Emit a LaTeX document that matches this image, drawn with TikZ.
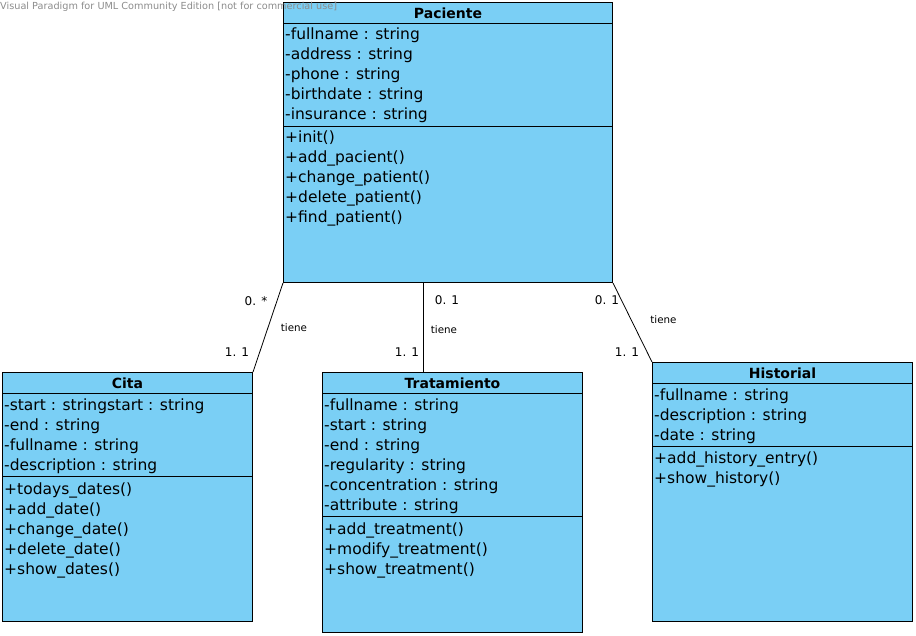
\documentclass[tikz,border=0pt]{standalone}
\usepackage{fontspec}
\setmainfont{DejaVu Sans}
\definecolor{classblue}{RGB}{122,207,245}
\tikzset{
  cls/.style={draw, fill=classblue, line width=1pt, anchor=north west, inner sep=0pt},
  clsname/.style={anchor=base, inner sep=0pt, font=\bfseries\fontsize{14}{16}\selectfont},
  member/.style={anchor=base west, inner sep=0pt, font=\fontsize{15.5}{20}\selectfont},
  mult/.style={inner sep=0pt, font=\fontsize{12}{14}\selectfont},
  role/.style={inner sep=0pt, font=\fontsize{10.3}{12}\selectfont},
  assoc/.style={line width=0.8pt},
}
\begin{document}
\begin{tikzpicture}[x=1pt,y=-1pt]
    \useasboundingbox (0,0) rectangle (916,636);
    % ------ Paciente -----------------
    \node [cls, minimum width=329pt, minimum height=280pt] (pac) at (283,2) {};
    \node [clsname] (pacN) at ([yshift=-16.3pt]pac.north) {Paciente};
    \draw (pac.north west) ++(0,21) -- ++(329,0);
    \draw (pac.north west) ++(0,124) -- ++(329,0);
    \foreach \t [count=\i] in {-fullname : string, -address : string,
        -phone : string, -birthdate : string, -insurance : string}
      \node [member] (pacA\i) at (285,20+20*\i) {\t};
    \foreach \t [count=\i] in {+init(), +add\_pacient(), +change\_patient(),
        +delete\_patient(), +find\_patient()}
      \node [member] (pacM\i) at (285,123+20*\i) {\t};
    % ------ Cita -----------------
    \node [cls, minimum width=250pt, minimum height=249pt] (cit) at (2,372) {};
    \node [clsname] (citN) at ([yshift=-16.3pt]cit.north) {Cita};
    \draw (cit.north west) ++(0,21) -- ++(250,0);
    \draw (cit.north west) ++(0,104.5) -- ++(250,0);
    \foreach \t [count=\i] in {-start : stringstart : string, -end : string,
        -fullname : string, -description : string}
      \node [member] (citA\i) at (4,390.5+20*\i) {\t};
    \foreach \t [count=\i] in {+todays\_dates(), +add\_date(), +change\_date(),
        +delete\_date(), +show\_dates()}
      \node [member] (citM\i) at (4,474+20*\i) {\t};
    % ------ Tratamiento -----------------
    \node [cls, minimum width=260pt, minimum height=260pt] (tra) at (322,372) {};
    \node [clsname] (traN) at ([yshift=-16.3pt]tra.north) {Tratamiento};
    \draw (tra.north west) ++(0,21) -- ++(260,0);
    \draw (tra.north west) ++(0,144) -- ++(260,0);
    \foreach \t [count=\i] in {-fullname : string, -start : string, -end : string,
        -regularity : string, -concentration : string, -attribute : string}
      \node [member] (traA\i) at (324,390.5+20*\i) {\t};
    \foreach \t [count=\i] in {+add\_treatment(), +modify\_treatment(),
        +show\_treatment()}
      \node [member] (traM\i) at (324,514+20*\i) {\t};
    % ------ Historial -----------------
    \node [cls, minimum width=260pt, minimum height=259pt] (his) at (652,362) {};
    \node [clsname] (hisN) at ([yshift=-16.3pt]his.north) {Historial};
    \draw (his.north west) ++(0,21) -- ++(260,0);
    \draw (his.north west) ++(0,84) -- ++(260,0);
    \foreach \t [count=\i] in {-fullname : string, -description : string,
        -date : string}
      \node [member] (hisA\i) at (654,380.5+20*\i) {\t};
    \foreach \t [count=\i] in {+add\_history\_entry(), +show\_history()}
      \node [member] (hisM\i) at (654,443.5+20*\i) {\t};
    % ------ associations -----------------
    \draw [assoc] (pac.south west) -- (cit.north east);
    \draw [assoc] ([xshift=-25pt]pac.south) -- ([xshift=-29.5pt]tra.north);
    \draw [assoc] (pac.south east) -- (his.north west);
    \node [mult] (m1) at (256,301) {0. *};
    \node [role] (r1) at (294,327.5) {tiene};
    \node [mult] (m2) at (237,352) {1. 1};
    \node [mult] (m3) at (447,300) {0. 1};
    \node [role] (r2) at (444,329.5) {tiene};
    \node [mult] (m4) at (407,352) {1. 1};
    \node [mult] (m5) at (607,300) {0. 1};
    \node [role] (r3) at (663.5,319.5) {tiene};
    \node [mult] (m6) at (627,352) {1. 1};
    % ------ watermark -----------------
    \node [anchor=base west, inner sep=0pt, text=black!45,
        font=\fontsize{9.7}{11}\selectfont] (vp) at (0,10)
        {Visual Paradigm for UML Community Edition [not for commercial use]};
\end{tikzpicture}
\end{document}
